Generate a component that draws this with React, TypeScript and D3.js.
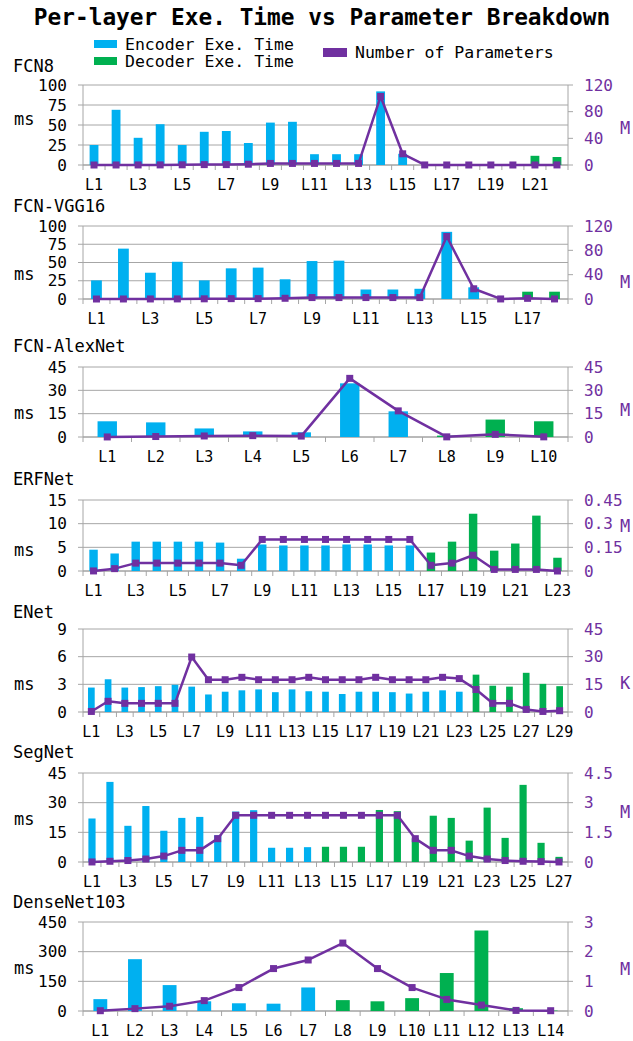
import React from "react";
import * as d3 from "d3";

const BLUE = "#00B0F0";
const GREEN = "#00B050";
const PURPLE = "#7030A0";
const FONT = "'DejaVu Sans Mono', monospace";

// per-layer exe. time (ms), encoder layers then decoder layers; parameters per layer
const fcn8Enc = [25, 69, 34, 51, 25, 41.5, 42.5, 27.5, 53, 54, 13.5, 13.5, 13.5, 92, 14];
const fcn8Dec = [0, 0, 0, 0, 0, 11.5, 10];
const fcn8Params = [0.0017, 0.037, 0.074, 0.15, 0.3, 0.59, 0.59, 1.18, 2.36, 2.36, 2.36, 2.36, 2.36, 102.8, 16.8, 0.09, 0.03, 0.01, 0.03, 0.01, 0.04, 0.1];

const vggEnc = [25.5, 69, 36, 51, 25.5, 42, 43, 27, 52, 52.5, 13, 13, 14, 92, 16, 0];
const vggDec = [10, 10];
const vggParams = [0.0017, 0.037, 0.074, 0.15, 0.3, 0.59, 0.59, 1.18, 2.36, 2.36, 2.36, 2.36, 2.36, 102.8, 16.8, 0.09, 1.1, 0.1];

const alexEnc = [10.1, 9.4, 5.5, 3.6, 3.0, 34.5, 16.5];
const alexDec = [0.9, 11.2, 10.1];
const alexParams = [0.035, 0.31, 0.66, 0.88, 0.59, 37.7, 16.8, 0.09, 1.7, 0.1];

const erfEnc = [4.5, 3.7, 6.2, 6.2, 6.2, 6.2, 6.0, 2.6, 5.6, 5.4, 5.4, 5.4, 5.6, 5.6, 5.4, 5.4];
const erfDec = [3.9, 6.2, 12.1, 4.3, 5.8, 11.7, 2.8];
const erfParams = [0.0004, 0.015, 0.05, 0.05, 0.05, 0.05, 0.05, 0.036, 0.2, 0.2, 0.2, 0.2, 0.2, 0.2, 0.2, 0.2, 0.036, 0.05, 0.1, 0.01, 0.01, 0.01, 0.0];

const enetEnc = [2.65, 3.55, 2.65, 2.7, 2.8, 2.95, 2.75, 1.9, 2.2, 2.35, 2.45, 2.15, 2.45, 2.25, 2.2, 1.95, 2.2, 2.2, 2.15, 2.0, 2.2, 2.35, 2.2];
const enetDec = [4.05, 2.85, 2.75, 4.25, 3.05, 2.8];
const enetParams = [0.3, 5.8, 4.7, 4.7, 4.7, 4.7, 29.8, 17.5, 17.5, 18.8, 17.5, 17.5, 17.5, 18.8, 17.5, 17.5, 17.5, 18.8, 17.5, 17.5, 17.5, 18.8, 18.1, 12.2, 4.7, 4.7, 1.4, 0.3, 0.7];

const segEnc = [22, 40.5, 18.3, 28.3, 15.8, 22.3, 22.8, 13.5, 25.5, 26.2, 7.2, 7.2, 7.5];
const segDec = [7.7, 7.7, 7.7, 26.3, 25.7, 12, 23.4, 22.3, 10.8, 27.5, 12.2, 39, 9.7, 2.6];
const segParams = [0.0017, 0.037, 0.074, 0.15, 0.3, 0.59, 0.59, 1.18, 2.36, 2.36, 2.36, 2.36, 2.36, 2.36, 2.36, 2.36, 2.36, 2.36, 1.18, 0.59, 0.59, 0.3, 0.15, 0.074, 0.037, 0.02, 0.002];

const denseEnc = [60, 262, 131, 49, 39, 37, 119];
const denseDec = [55, 49, 65, 192, 407, 14, 2];
const denseParams = [0.01, 0.08, 0.16, 0.35, 0.79, 1.43, 1.72, 2.29, 1.43, 0.79, 0.39, 0.2, 0.02, 0.01];

const panels = [
  { name: "FCN8", enc: fcn8Enc, dec: fcn8Dec, params: fcn8Params, msTicks: [0, 25, 50, 75, 100], pTicks: [0, 40, 80, 120], unit: "M", every: 2, top: 85, bottom: 165, titleY: 72, msY: 119, unitY: 128 },
  { name: "FCN-VGG16", enc: vggEnc, dec: vggDec, params: vggParams, msTicks: [0, 25, 50, 75, 100], pTicks: [0, 40, 80, 120], unit: "M", every: 2, top: 226, bottom: 299, titleY: 212, msY: 274, unitY: 282 },
  { name: "FCN-AlexNet", enc: alexEnc, dec: alexDec, params: alexParams, msTicks: [0, 15, 30, 45], pTicks: [0, 15, 30, 45], unit: "M", every: 1, top: 367, bottom: 437, titleY: 352, msY: 413, unitY: 410 },
  { name: "ERFNet", enc: erfEnc, dec: erfDec, params: erfParams, msTicks: [0, 5, 10, 15], pTicks: [0, 0.15, 0.3, 0.45], unit: "M", every: 2, top: 500, bottom: 571, titleY: 485, msY: 550, unitY: 526 },
  { name: "ENet", enc: enetEnc, dec: enetDec, params: enetParams, msTicks: [0, 3, 6, 9], pTicks: [0, 15, 30, 45], unit: "K", every: 2, top: 629, bottom: 712, titleY: 618, msY: 684, unitY: 683 },
  { name: "SegNet", enc: segEnc, dec: segDec, params: segParams, msTicks: [0, 15, 30, 45], pTicks: [0, 1.5, 3, 4.5], unit: "M", every: 2, top: 773, bottom: 862, titleY: 758, msY: 819, unitY: 812 },
  { name: "DenseNet103", enc: denseEnc, dec: denseDec, params: denseParams, msTicks: [0, 150, 300, 450], pTicks: [0, 1, 2, 3], unit: "M", every: 1, top: 922, bottom: 1011, titleY: 908, msY: 968, unitY: 969 },
];

const LEFT = 83;
const RIGHT = 568;

function Panel({ p }: { p: any }) {
  const times = [...p.enc, ...p.dec];
  const n = times.length;
  const labels = times.map((_: number, i: number) => "L" + (i + 1));
  const x = d3.scaleBand().domain(labels).range([LEFT, RIGHT]).paddingInner(0.6).paddingOuter(0.3);
  const step = x.step();
  const y = d3.scaleLinear().domain([0, p.msTicks[p.msTicks.length - 1]]).range([p.bottom, p.top]);
  const y2 = d3.scaleLinear().domain([0, p.pTicks[p.pTicks.length - 1]]).range([p.bottom, p.top]);
  const cx = (i: number) => (x(labels[i]) as number) + x.bandwidth() / 2;
  const lineGen = d3.line<number>().x((_, i) => cx(i)).y((d) => y2(d));
  const ms = 7;

  return (
    <g>
      <text x={13} y={p.titleY} fontSize={17} fontFamily={FONT}>{p.name}</text>
      {p.msTicks.map((t: number) => (
        <g key={"g" + t}>
          <line x1={LEFT - 5} x2={RIGHT} y1={y(t)} y2={y(t)} stroke="#a6a6a6" strokeWidth={1} />
          <text x={67} y={y(t)} dy="0.35em" textAnchor="end" fontSize={16} fontFamily={FONT}>{t}</text>
        </g>
      ))}
      <line x1={LEFT} x2={LEFT} y1={p.top} y2={p.bottom} stroke="#a6a6a6" />
      <line x1={RIGHT} x2={RIGHT} y1={p.top} y2={p.bottom} stroke="#a6a6a6" />
      {p.pTicks.map((t: number) => (
        <g key={"r" + t}>
          <line x1={RIGHT} x2={RIGHT + 5} y1={y2(t)} y2={y2(t)} stroke="#a6a6a6" />
          <text x={584} y={y2(t)} dy="0.35em" fontSize={16} fill={PURPLE} fontFamily={FONT}>{String(t)}</text>
        </g>
      ))}
      {d3.range(n + 1).map((i) => (
        <line key={"xt" + i} x1={LEFT + i * step} x2={LEFT + i * step} y1={p.bottom} y2={p.bottom + 5} stroke="#a6a6a6" />
      ))}
      <line x1={LEFT} x2={RIGHT} y1={p.bottom} y2={p.bottom} stroke="#a0a0a0" />
      {times.map((v: number, i: number) => (
        <rect key={"b" + i} x={x(labels[i])} width={x.bandwidth()} y={y(v)} height={p.bottom - y(v)}
          fill={i < p.enc.length ? BLUE : GREEN} />
      ))}
      <path d={lineGen(p.params) || ""} fill="none" stroke={PURPLE} strokeWidth={2.5} strokeLinejoin="round" />
      {p.params.map((v: number, i: number) => (
        <rect key={"m" + i} x={cx(i) - ms / 2} y={y2(v) - ms / 2} width={ms} height={ms} fill={PURPLE} />
      ))}
      {labels.map((l: string, i: number) => i % p.every === 0 ? (
        <text key={"xl" + i} x={cx(i)} y={p.bottom + 25} textAnchor="middle" fontSize={15} fontFamily={FONT}>{l}</text>
      ) : null)}
      <text x={14} y={p.msY} dy="0.35em" fontSize={17} fontFamily={FONT}>ms</text>
      <text x={620} y={p.unitY} dy="0.35em" fontSize={17} fill={PURPLE} fontFamily={FONT}>{p.unit}</text>
    </g>
  );
}

export default function App() {
  return (
    <svg width={633} height={1041} style={{ position: "absolute", left: 0, top: 0, background: "#fff" }}>
      <text x={322} y={25} textAnchor="middle" fontSize={22.8} fontWeight="bold" fontFamily={FONT}>
        Per-layer Exe. Time vs Parameter Breakdown
      </text>
      <rect x={94} y={40} width={23} height={8} fill={BLUE} />
      <text x={125} y={44} dy="0.35em" fontSize={16.5} fontFamily={FONT}>Encoder Exe. Time</text>
      <rect x={94} y={57} width={23} height={8} fill={GREEN} />
      <text x={125} y={61} dy="0.35em" fontSize={16.5} fontFamily={FONT}>Decoder Exe. Time</text>
      <rect x={323} y={48} width={24} height={9} fill={PURPLE} />
      <text x={355} y={52} dy="0.35em" fontSize={16.5} fontFamily={FONT}>Number of Parameters</text>
      {panels.map((p) => <Panel key={p.name} p={p} />)}
    </svg>
  );
}
